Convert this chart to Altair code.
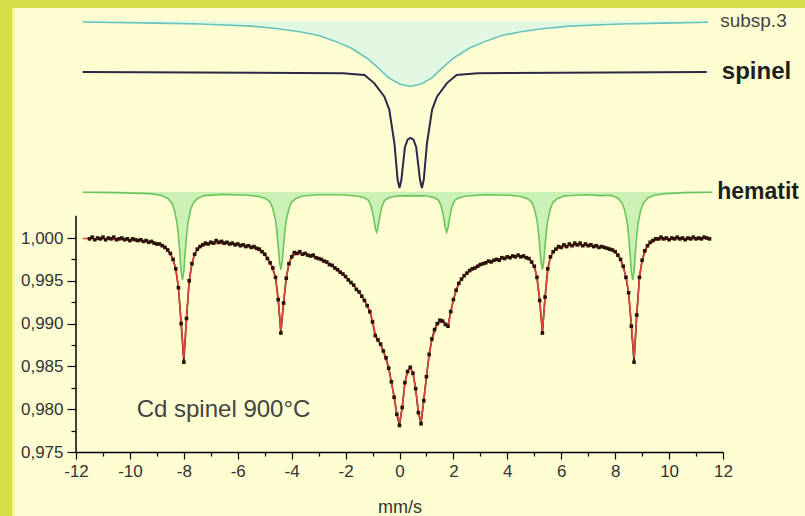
import altair as alt
import pandas as pd

# ---------------- values ----------------
# measured spectrum: absorption (per mille below 1.000) on a 0.1 mm/s grid from -11.5 to 11.5
DATA_START = -11.5
DATA_STEP = 0.1
data_abs = [
    0.1, -0.1, 0.2, 0.0, 0.1, -0.1,
    0.2, 0.0, 0.1, -0.1, 0.2, 0.1, 0.0, 0.2, 0.1, 0.3,
    0.1, 0.2, 0.3, 0.2, 0.4, 0.3, 0.5, 0.4, 0.6, 0.7,
    0.7, 0.9, 1.1, 1.4, 1.8, 2.5, 3.6, 5.8, 10.0, 14.5,
    9.4, 5.0, 3.0, 1.9, 1.3, 1.0, 0.8, 0.6, 0.7, 0.5,
    0.6, 0.3, 0.5, 0.4, 0.6, 0.5, 0.7, 0.6, 0.8, 0.7,
    0.9, 0.8, 1.0, 0.9, 1.1, 1.0, 1.2, 1.3, 1.6, 1.9,
    2.4, 2.9, 3.5, 4.6, 7.2, 11.1, 7.6, 4.7, 3.0, 2.2,
    1.7, 1.8, 1.6, 1.9, 1.8, 2.0, 2.1, 2.0, 2.3, 2.4,
    2.5, 2.7, 2.8, 3.1, 3.2, 3.5, 3.7, 4.0, 4.2, 4.5,
    4.9, 5.2, 5.5, 6.0, 6.3, 6.8, 7.3, 7.9, 8.6, 9.8,
    11.4, 11.9, 12.4, 13.2, 14.0, 15.2, 16.8, 18.6, 20.6, 21.9,
    19.8, 16.9, 15.6, 15.1, 15.8, 17.6, 20.4, 21.7, 19.0, 16.2,
    13.6, 11.8, 10.7, 10.0, 9.6, 9.7, 10.1, 10.3, 8.6, 7.2,
    6.1, 5.3, 4.8, 4.4, 4.1, 3.8, 3.6, 3.5, 3.3, 3.1,
    3.0, 2.9, 2.7, 2.8, 2.6, 2.5, 2.6, 2.3, 2.4, 2.2,
    2.3, 2.1, 2.2, 2.0, 2.2, 2.1, 2.3, 2.4, 2.8, 3.3,
    4.6, 7.3, 11.1, 6.9, 3.6, 2.2, 1.6, 1.3, 1.0, 1.1,
    0.8, 1.0, 0.7, 0.9, 0.6, 0.8, 0.6, 0.9, 0.7, 0.9,
    0.8, 1.0, 0.9, 1.1, 1.0, 1.1, 1.2, 1.3, 1.4, 1.6,
    2.0, 2.5, 3.3, 4.6, 6.4, 10.3, 14.5, 9.0, 4.6, 2.6,
    1.5, 0.9, 0.5, 0.3, 0.1, 0.1, -0.1, 0.1, 0.0, 0.2,
    0.0, 0.1, -0.1, 0.1, 0.0, 0.2, 0.0, 0.1, -0.1, 0.1,
    0.0, 0.1, -0.1, 0.0, 0.1,
]

# fitted sum curve (velocity mm/s, absorption per mille)
fit_vel = [-11.75, -10.5, -9.5, -9.0, -8.8, -8.6, -8.4, -8.3, -8.2, -8.1, -8.0, -7.9, -7.8, -7.7, -7.6,
           -7.4, -7.0, -6.0, -5.5, -5.0, -4.8, -4.6, -4.5, -4.4, -4.3, -4.2, -4.1, -4.0, -3.8, -3.5,
           -3.0, -2.5, -2.0, -1.5, -1.2, -1.0, -0.9, -0.8, -0.6, -0.4, -0.2, -0.1, 0.0, 0.1, 0.2,
           0.3, 0.4, 0.5, 0.6, 0.7, 0.8, 0.9, 1.0, 1.1, 1.2, 1.4, 1.6, 1.8, 1.9, 2.0,
           2.2, 2.5, 3.0, 3.5, 4.0, 4.5, 4.8, 5.0, 5.1, 5.2, 5.3, 5.4, 5.5, 5.6, 5.8,
           6.2, 7.0, 7.6, 8.0, 8.2, 8.4, 8.5, 8.6, 8.7, 8.8, 8.9, 9.0, 9.2, 9.5, 10.0, 11.5]
fit_abs = [0.05, 0.15, 0.35, 0.6, 0.85, 1.35, 2.5, 3.6, 5.8, 9.8, 14.0, 9.3, 5.0, 3.0, 1.9,
           1.0, 0.6, 0.7, 1.0, 1.8, 2.8, 4.6, 7.0, 10.8, 7.4, 4.6, 3.0, 2.2, 1.8, 1.9,
           2.4, 3.2, 4.5, 6.3, 7.8, 9.6, 11.2, 11.9, 13.2, 15.3, 18.5, 20.5, 21.6, 19.8, 17.0,
           15.5, 15.1, 15.8, 17.6, 20.3, 21.4, 19.0, 16.2, 13.7, 11.9, 10.1, 9.7, 10.2, 8.7, 7.2,
           5.3, 4.1, 3.1, 2.6, 2.2, 2.1, 2.4, 3.3, 4.6, 7.2, 10.8, 6.9, 3.7, 2.2, 1.3,
           0.9, 0.85, 1.1, 1.6, 2.5, 4.5, 6.4, 10.0, 14.0, 9.0, 4.7, 2.6, 0.9, 0.2, 0.1, 0.05]

# hematite sextet subspectrum (velocity, absorption per mille), drawn shifted up
hem_vel = [-11.75, -10.5, -9.25, -8.85, -8.6, -8.45, -8.35, -8.25, -8.2, -8.15, -8.1, -8.05, -8.0, -7.95,
           -7.9, -7.85, -7.75, -7.65, -7.5, -7.25, -6.6, -5.6, -5.2, -4.95, -4.8, -4.7, -4.6, -4.55,
           -4.5, -4.45, -4.4, -4.35, -4.3, -4.25, -4.2, -4.1, -4.0, -3.85, -3.6, -3.0, -2.2, -1.6,
           -1.3, -1.15, -1.05, -1.0, -0.95, -0.9, -0.85, -0.8, -0.75, -0.7, -0.65, -0.55, -0.4, -0.1,
           0.45, 1.0, 1.3, 1.45, 1.55, 1.6, 1.65, 1.7, 1.75, 1.8, 1.85, 1.9, 1.95, 2.05, 2.2, 2.5,
           3.2, 4.1, 4.5, 4.75, 4.9, 5.0, 5.1, 5.15, 5.2, 5.25, 5.3, 5.35, 5.4, 5.45, 5.5, 5.6,
           5.7, 5.85, 6.1, 6.9, 7.5, 7.85, 8.1, 8.25, 8.35, 8.45, 8.5, 8.55, 8.6, 8.65, 8.7, 8.75,
           8.8, 8.85, 8.95, 9.05, 9.2, 9.45, 9.85, 10.6, 11.6]
hem_abs = [0.05, 0.1, 0.22, 0.4, 0.75, 1.3, 2.1, 3.7, 5.2, 7.1, 9.3, 10.3, 9.3, 7.1,
           5.2, 3.7, 2.1, 1.3, 0.8, 0.45, 0.3, 0.4, 0.55, 0.8, 1.2, 1.95, 3.3, 4.6,
           6.3, 8.2, 9.1, 8.2, 6.3, 4.6, 3.3, 1.95, 1.2, 0.8, 0.5, 0.35, 0.35, 0.5,
           0.7, 1.0, 1.7, 2.4, 3.2, 4.2, 4.7, 4.2, 3.2, 2.4, 1.7, 1.0, 0.7, 0.5,
           0.45, 0.5, 0.7, 1.0, 1.7, 2.4, 3.2, 4.2, 4.7, 4.2, 3.2, 2.4, 1.7, 1.0, 0.7, 0.5,
           0.35, 0.4, 0.55, 0.8, 1.2, 1.95, 3.3, 4.6, 6.3, 8.2, 9.1, 8.2, 6.3, 4.6, 3.3, 1.95,
           1.2, 0.8, 0.5, 0.35, 0.45, 0.4, 0.75, 1.3, 2.1, 3.7, 5.2, 7.1, 9.3, 10.3, 9.3, 7.1,
           5.2, 3.7, 2.1, 1.3, 0.75, 0.4, 0.22, 0.1, 0.05]

# spinel doublet subspectrum
spin_vel = [-11.75, -2.1, -1.3, -0.94, -0.56, -0.38, -0.19, -0.07, 0.0, 0.07, 0.2, 0.3, 0.41,
            0.52, 0.62, 0.76, 0.83, 0.9, 1.02, 1.21, 1.39, 1.76, 2.12, 2.9, 11.4]
spin_abs = [0.0, 0.15, 0.35, 1.3, 2.9, 4.4, 8.3, 12.6, 13.55, 12.6, 8.8, 7.9, 7.7,
            7.9, 8.8, 12.6, 13.55, 12.6, 8.3, 4.4, 2.9, 1.3, 0.35, 0.15, 0.0]

# broad singlet subspectrum 3
sub_vel = [-11.75, -9.0, -7.4, -5.5, -4.5, -3.7, -3.0, -2.4, -1.8, -1.2, -0.8, -0.4, 0.0, 0.4,
           0.8, 1.2, 1.6, 2.0, 2.6, 3.2, 3.8, 4.5, 5.3, 6.3, 8.2, 9.8, 11.45]
sub_abs = [0.17, 0.3, 0.4, 0.65, 0.95, 1.3, 1.75, 2.4, 3.2, 4.4, 5.5, 6.7, 7.4, 7.7,
           7.4, 6.7, 5.5, 4.4, 3.2, 2.4, 1.75, 1.3, 0.95, 0.65, 0.4, 0.3, 0.2]

# vertical display offsets of the stacked subspectra (per mille above 1.000)
HEM_OFFSET = 5.4
SPIN_OFFSET = 19.4
SUB_OFFSET = 25.4

series_names = ["subsp.3", "spinel", "hematit"]
annotation = "Cd spinel 900°C"
x_title = "mm/s"

y_major = [0.975, 0.98, 0.985, 0.99, 0.995, 1.0]
y_minor = [0.9775, 0.9825, 0.9875, 0.9925, 0.9975]
x_major = [-12, -10, -8, -6, -4, -2, 0, 2, 4, 6, 8, 10, 12]
x_minor = [-11, -9, -7, -5, -3, -1, 1, 3, 5, 7, 9, 11]
X_DOMAIN = [-12, 12]
Y_DOMAIN = [0.975, 1.02687]

# ---------------- tables ----------------
def trans(abs_list, offset=0.0):
    return [1.0 + (offset - a) / 1000.0 for a in abs_list]

data_vel = [round(DATA_START + DATA_STEP * i, 2) for i in range(len(data_abs))]
df_data = pd.DataFrame({"v": data_vel, "t": trans(data_abs)})
df_fit = pd.DataFrame({"v": fit_vel, "t": trans(fit_abs)})
df_hem = pd.DataFrame({"v": hem_vel, "t": trans(hem_abs, HEM_OFFSET),
                       "base": [1.0 + HEM_OFFSET / 1000.0] * len(hem_vel)})
df_spin = pd.DataFrame({"v": spin_vel, "t": trans(spin_abs, SPIN_OFFSET)})
df_sub = pd.DataFrame({"v": sub_vel, "t": trans(sub_abs, SUB_OFFSET),
                       "base": [1.0 + SUB_OFFSET / 1000.0] * len(sub_vel)})

df_labels = pd.DataFrame({
    "v": [sub_vel[-1], spin_vel[-1], hem_vel[-1]],
    "t": [1.0 + SUB_OFFSET / 1000.0, 1.0 + SPIN_OFFSET / 1000.0, 1.0 + HEM_OFFSET / 1000.0],
    "label": series_names,
})

xs = alt.Scale(domain=X_DOMAIN, nice=False, zero=False)
ys = alt.Scale(domain=Y_DOMAIN, nice=False, zero=False)

x_axis = alt.Axis(
    orient="bottom", values=x_major, title=x_title, grid=False, domain=True, tickSize=7,
    labelExpr="datum.value < 0 ? '-' + abs(datum.value) : '' + datum.value",
    labelPadding=4, titlePadding=19, labelFlush=False,
)
y_axis = alt.Axis(
    orient="left", values=y_major, title=None, grid=False, domain=False, tickSize=9,
    labelExpr="replace(format(datum.value, '.3f'), '.', ',')",
    labelPadding=4, labelFlush=False,
)
x_axis_minor = alt.Axis(orient="bottom", values=x_minor, title=None, grid=False,
                        domain=False, labels=False, tickSize=4)
y_axis_minor = alt.Axis(orient="left", values=y_minor, title=None, grid=False,
                        domain=False, labels=False, tickSize=5)

X = alt.X("v:Q", scale=xs, axis=x_axis)
Y = alt.Y("t:Q", scale=ys, axis=y_axis)
Xm = alt.X("v:Q", scale=xs, axis=x_axis_minor)
Ym = alt.Y("t:Q", scale=ys, axis=y_axis_minor)
Xn = alt.X("v:Q", scale=xs, axis=None)
Yn = alt.Y("t:Q", scale=ys, axis=None)

BORDER = "#d4df47"
dummy = pd.DataFrame({"a": [0]})
border_left = alt.Chart(dummy).mark_rect(color=BORDER, clip=False).encode(
    x=alt.value(-76), x2=alt.value(-64), y=alt.value(-8), y2=alt.value(508))
border_soft = alt.Chart(dummy).mark_rect(color="#eef39a", clip=False).encode(
    x=alt.value(-64), x2=alt.value(-61), y=alt.value(0), y2=alt.value(508))
border_top = alt.Chart(dummy).mark_rect(color=BORDER, clip=False).encode(
    x=alt.value(-76), x2=alt.value(729), y=alt.value(-8), y2=alt.value(0))

sub_area = alt.Chart(df_sub).mark_area(color="#e0f7e4", opacity=0.9).encode(
    x=Xn, y=Yn, y2="base:Q")
sub_line = alt.Chart(df_sub).mark_line(color="#68c4bc", strokeWidth=1.6).encode(x=Xn, y=Yn)
spin_line = alt.Chart(df_spin).mark_line(color="#2a2a48", strokeWidth=2).encode(x=Xn, y=Yn)
hem_area = alt.Chart(df_hem).mark_area(color="#c6f0b2", opacity=0.9).encode(
    x=Xn, y=Yn, y2="base:Q")
hem_line = alt.Chart(df_hem).mark_line(color="#6cc45c", strokeWidth=1.6).encode(x=Xn, y=Yn)
data_line = alt.Chart(df_data).mark_line(color="#3a1a10", strokeWidth=1.6).encode(x=Xm, y=Ym)
fit_line = alt.Chart(df_fit).mark_line(color="#e0443a", strokeWidth=1.6).encode(x=Xn, y=Yn)
data_pts = alt.Chart(df_data).mark_square(color="#2a1208", size=13, opacity=1).encode(x=X, y=Y)

y_rule = alt.Chart(pd.DataFrame({"v": [X_DOMAIN[0]], "t": [min(y_major)],
                                 "t2": [max(y_major) + 0.0026]})).mark_rule(
    color="black", strokeWidth=1.5).encode(x=Xn, y=Yn, y2="t2:Q")

label_dx = {"subsp.3": 12, "spinel": 15, "hematit": 5}
df_labels["dx"] = [label_dx[n] for n in df_labels["label"]]

lab_spinel = alt.Chart(df_labels[df_labels["label"] == "spinel"]).mark_text(
    align="left", baseline="middle", dx=15, font="Liberation Sans", fontSize=24,
    fontWeight="bold", color="#1e1e1e").encode(x=Xn, y=Yn, text="label:N")
lab_hem = alt.Chart(df_labels[df_labels["label"] == "hematit"]).mark_text(
    align="left", baseline="middle", dx=5, font="Liberation Sans", fontSize=23,
    fontWeight="bold", color="#1e1e1e").encode(x=Xn, y=Yn, text="label:N")
lab_sub = alt.Chart(df_labels[df_labels["label"] == "subsp.3"]).mark_text(
    align="left", baseline="middle", dx=12, font="Liberation Sans", fontSize=19,
    color="#444").encode(x=Xn, y=Yn, text="label:N")

ann = alt.Chart(pd.DataFrame({"v": [-9.75], "t": [0.9799], "label": [annotation]})).mark_text(
    align="left", baseline="middle", font="Liberation Sans", fontSize=24, color="#444"
).encode(x=Xn, y=Yn, text="label:N")

chart = alt.layer(
    border_left, border_soft, border_top,
    sub_area, sub_line, spin_line, hem_area, hem_line,
    data_line, fit_line, data_pts, y_rule, lab_spinel, lab_hem, lab_sub, ann,
).resolve_axis(x="independent", y="independent").properties(
    width=647, height=444,
    autosize=alt.AutoSizeParams(type="none"),
    padding={"left": 76, "top": 8, "right": 82, "bottom": 64},
    background="#fffed2",
).configure_view(stroke=None).configure_axis(
    labelFont="Liberation Sans", labelFontSize=17, labelColor="#333",
    tickColor="black", tickWidth=1.2, domainColor="black", domainWidth=1.5,
    titleFont="Liberation Sans", titleFontSize=18, titleFontWeight="normal", titleColor="#333",
)

chart.save("out.html", embed_options={"renderer": "svg", "actions": False})
